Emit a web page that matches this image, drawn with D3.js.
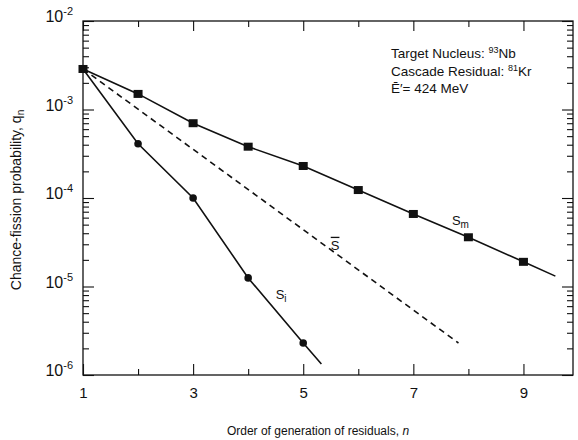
<!DOCTYPE html>
<html>
<head>
<meta charset="utf-8">
<script src="https://cdn.jsdelivr.net/npm/d3@7"></script>
<style>
  body { margin: 0; background: #fff; }
  text { font-family: "Liberation Sans", Arial, sans-serif; fill: #111; }
</style>
</head>
<body>
<svg id="chart" width="578" height="440"></svg>
<script>
// measured points (S_m squares, S_i circles)
const nSm = [1, 2, 3, 4, 5, 6, 7, 8, 9];
const qSm = [2.87e-3, 1.5e-3, 7.0e-4, 3.8e-4, 2.3e-4, 1.23e-4, 6.6e-5, 3.6e-5, 1.9e-5];
const nSi = [1, 2, 3, 4, 5];
const qSi = [2.87e-3, 4.1e-4, 1.0e-4, 1.25e-5, 2.3e-6];

// where the drawn curves end past the last point
const smEnd = [9.58, 1.31e-5];
const siEnd = [5.33, 1.33e-6];
// mean curve S-bar (dashed, straight)
const sbarN = [1, 7.82];
const sbarQ = [2.87e-3, 2.3e-6];

const xMajor = [1, 3, 5, 7, 9];
const xMinor = [2, 4, 6, 8];
const yDecades = [1e-6, 1e-5, 1e-4, 1e-3, 1e-2];
const yExp = ["-6", "-5", "-4", "-3", "-2"];

const margin = {top: 21, right: 5, bottom: 65, left: 83};
const width = 578, height = 440;

const svg = d3.select("#chart");

const x = d3.scaleLinear()
  .domain([1, 9.9])
  .range([margin.left, width - margin.right]);

const y = d3.scaleLog()
  .domain([1e-6, 1e-2])
  .range([height - margin.bottom, margin.top]);

// minor log ticks 2..9 for each decade
let yMinor = [];
yDecades.slice(0, -1).forEach(function(d) {
  for (let k = 2; k <= 9; k++) yMinor.push(d * k);
});

const x0 = x.range()[0], x1 = x.range()[1];
const y0 = y.range()[0], y1 = y.range()[1];

function styleAxis(g) {
  g.select(".domain").remove();
  g.selectAll("line").attr("stroke", "#111").attr("stroke-width", 1.1);
}

// bottom axis, labeled odd ticks
svg.append("g")
  .attr("transform", "translate(0," + y0 + ")")
  .call(d3.axisBottom(x).tickValues(xMajor).tickSizeInner(-11).tickSizeOuter(0).tickPadding(12)
    .tickFormat(d3.format("d")))
  .call(styleAxis)
  .call(g => g.selectAll("text").attr("font-size", 15).attr("fill", "#111"));

svg.append("g")
  .attr("transform", "translate(0," + y0 + ")")
  .call(d3.axisBottom(x).tickValues(xMinor).tickSizeInner(-6).tickSizeOuter(0).tickFormat(""))
  .call(styleAxis);

// top axis ticks (inward)
svg.append("g")
  .attr("transform", "translate(0," + y1 + ")")
  .call(d3.axisTop(x).tickValues(xMajor).tickSizeInner(-10).tickSizeOuter(0).tickFormat(""))
  .call(styleAxis);
svg.append("g")
  .attr("transform", "translate(0," + y1 + ")")
  .call(d3.axisTop(x).tickValues(xMinor).tickSizeInner(-6).tickSizeOuter(0).tickFormat(""))
  .call(styleAxis);

// left and right log axes
[[d3.axisLeft, x0], [d3.axisRight, x1]].forEach(function(a) {
  svg.append("g")
    .attr("transform", "translate(" + a[1] + ",0)")
    .call(a[0](y).tickValues(yDecades).tickSizeInner(-11).tickSizeOuter(0).tickFormat(""))
    .call(styleAxis);
  svg.append("g")
    .attr("transform", "translate(" + a[1] + ",0)")
    .call(a[0](y).tickValues(yMinor).tickSizeInner(-6).tickSizeOuter(0).tickFormat(""))
    .call(styleAxis);
});

// decade labels 10^n
const yLab = svg.append("g").attr("class", "ylabels");
yDecades.forEach(function(d, i) {
  const t = yLab.append("text")
    .attr("x", x0 - 10)
    .attr("y", y(d) + 1)
    .attr("text-anchor", "end")
    .attr("font-size", 16);
  t.append("tspan").text("10");
  t.append("tspan").attr("dy", -7).attr("font-size", 11).text(yExp[i]);
});

// frame
svg.append("rect")
  .attr("x", x0).attr("y", y1)
  .attr("width", x1 - x0).attr("height", y0 - y1)
  .attr("fill", "none").attr("stroke", "#111").attr("stroke-width", 1.3);

// curves
const line = d3.line()
  .x(d => x(d[0]))
  .y(d => y(d[1]));

function drawCurve(pts, dash) {
  svg.append("path")
    .datum(pts)
    .attr("d", line)
    .attr("fill", "none")
    .attr("stroke", "#111")
    .attr("stroke-width", 1.6)
    .attr("stroke-dasharray", dash ? "6,4.5" : null);
}
const smPts = nSm.map((n, i) => [n, qSm[i]]);
const siPts = nSi.map((n, i) => [n, qSi[i]]);
drawCurve(sbarN.map((n, i) => [n, sbarQ[i]]), true);
drawCurve(smPts.concat([smEnd]), false);
drawCurve(siPts.concat([siEnd]), false);

// markers
svg.append("g").selectAll("circle")
  .data(siPts.slice(1))
  .enter().append("circle")
  .attr("cx", d => x(d[0]))
  .attr("cy", d => y(d[1]))
  .attr("r", 3.8)
  .attr("fill", "#111");

svg.append("g").selectAll("rect")
  .data(smPts)
  .enter().append("rect")
  .attr("x", d => x(d[0]) - 4.5)
  .attr("y", d => y(d[1]) - 4)
  .attr("width", 9)
  .attr("height", 8)
  .attr("fill", "#111");

// curve labels
function curveLabel(n, q, sub, over) {
  const t = svg.append("text")
    .attr("x", x(n)).attr("y", y(q))
    .attr("font-size", 13);
  const s = t.append("tspan").text("S");
  if (over) s.attr("text-decoration", "overline");
  if (sub) t.append("tspan").attr("dy", 3).attr("font-size", 10).text(sub);
}
curveLabel(7.7, 5.0e-5, "m", false);
curveLabel(5.5, 2.6e-5, null, true);
curveLabel(4.5, 7.2e-6, "i", false);

// annotation
const note = svg.append("g").attr("font-size", 13.5);
const noteX = 391;
const n1 = note.append("text").attr("x", noteX).attr("y", 58);
n1.append("tspan").text("Target Nucleus: ");
n1.append("tspan").attr("dy", -5).attr("font-size", 9).text("93");
n1.append("tspan").attr("dy", 5).text("Nb");
const n2 = note.append("text").attr("x", noteX).attr("y", 76);
n2.append("tspan").text("Cascade Residual: ");
n2.append("tspan").attr("dy", -5).attr("font-size", 9).text("81");
n2.append("tspan").attr("dy", 5).text("Kr");
note.append("text").attr("x", noteX).attr("y", 93).text("\u0112\u2032= 424 MeV");

// axis titles
svg.append("text")
  .attr("x", 318)
  .attr("y", 435)
  .attr("text-anchor", "middle")
  .attr("font-size", 12)
  .call(t => {
    t.append("tspan").text("Order of generation of residuals, ");
    t.append("tspan").attr("font-style", "italic").text("n");
  });

svg.append("text")
  .attr("transform", "translate(21,200) rotate(-90)")
  .attr("text-anchor", "middle")
  .attr("font-size", 14)
  .call(t => {
    t.append("tspan").text("Chance-fission probability, q");
    t.append("tspan").attr("dy", 3).attr("font-size", 10).text("n");
  });
</script>
</body>
</html>
